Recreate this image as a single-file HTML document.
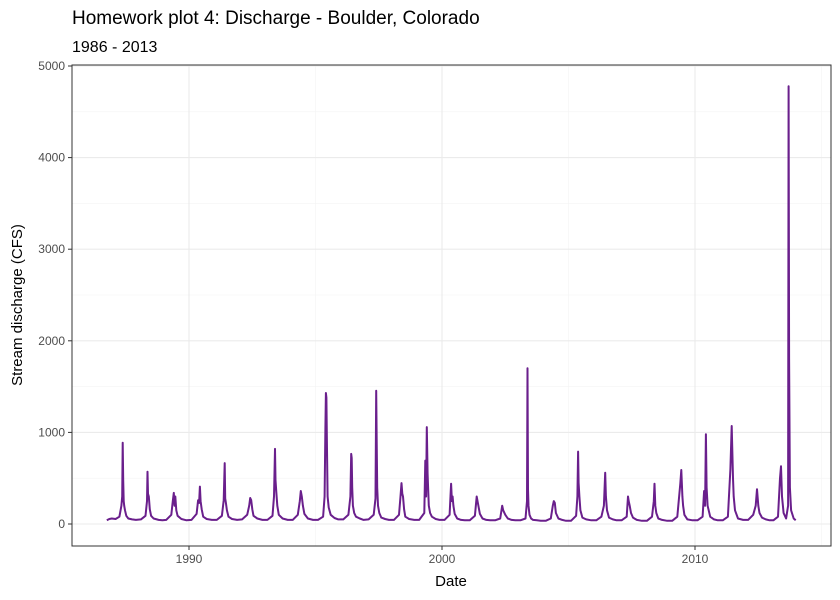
<!DOCTYPE html>
<html><head><meta charset="utf-8"><style>
body{margin:0;background:#fff;}
svg{display:block;font-family:"Liberation Sans",sans-serif;}
</style></head><body>
<svg id="chart" width="840" height="600" xmlns="http://www.w3.org/2000/svg">
<text x="72" y="24" font-size="19" fill="#000">Homework plot 4: Discharge - Boulder, Colorado</text>
<text x="72" y="52" font-size="16" fill="#000">1986 - 2013</text>
<g id="grid"></g>
<path id="line" fill="none" stroke="#6a1f8c" stroke-width="2" stroke-linejoin="round"/>
<rect x="72" y="65" width="759" height="481" fill="none" stroke="#333" stroke-width="1"/>
<g id="axes"></g>
<text x="451" y="586" font-size="15" text-anchor="middle">Date</text>
<text transform="translate(22,305) rotate(-90)" font-size="15" text-anchor="middle">Stream discharge (CFS)</text>
</svg>
<script>
const yTicks=[0,1000,2000,3000,4000,5000];
const xTicks=[1990,2000,2010];
const dates=[
1986.75,1986.85,1986.95,1987.1,1987.25,1987.33,1987.36,1987.38,1987.40,1987.42,1987.44,1987.47,1987.52,1987.6,1987.75,1987.9,
1988.1,1988.28,1988.34,1988.36,1988.38,1988.41,1988.45,1988.5,1988.6,1988.8,1988.95,
1989.1,1989.3,1989.36,1989.40,1989.43,1989.46,1989.5,1989.55,1989.7,1989.9,
1990.1,1990.3,1990.36,1990.40,1990.43,1990.46,1990.5,1990.56,1990.7,1990.9,
1991.1,1991.3,1991.37,1991.41,1991.43,1991.46,1991.5,1991.56,1991.7,1991.9,
1992.1,1992.3,1992.38,1992.42,1992.46,1992.5,1992.55,1992.7,1992.9,
1993.1,1993.3,1993.36,1993.40,1993.42,1993.45,1993.49,1993.55,1993.7,1993.9,
1994.1,1994.3,1994.38,1994.42,1994.46,1994.5,1994.56,1994.7,1994.9,
1995.1,1995.3,1995.36,1995.39,1995.41,1995.43,1995.45,1995.48,1995.52,1995.6,1995.75,1995.9,
1996.1,1996.3,1996.38,1996.41,1996.43,1996.45,1996.48,1996.53,1996.6,1996.75,1996.9,
1997.1,1997.3,1997.37,1997.40,1997.42,1997.44,1997.47,1997.52,1997.6,1997.75,1997.9,
1998.1,1998.3,1998.36,1998.40,1998.43,1998.46,1998.5,1998.55,1998.7,1998.9,
1999.1,1999.3,1999.34,1999.37,1999.40,1999.43,1999.45,1999.48,1999.53,1999.6,1999.75,1999.9,
2000.1,2000.3,2000.36,2000.39,2000.42,2000.45,2000.5,2000.6,2000.75,2000.9,
2001.1,2001.3,2001.37,2001.41,2001.45,2001.5,2001.6,2001.75,2001.9,
2002.1,2002.3,2002.38,2002.42,2002.5,2002.6,2002.75,2002.9,
2003.1,2003.3,2003.36,2003.38,2003.40,2003.42,2003.46,2003.52,2003.6,2003.75,2003.9,
2004.1,2004.3,2004.38,2004.42,2004.46,2004.5,2004.6,2004.75,2004.9,
2005.1,2005.3,2005.35,2005.38,2005.40,2005.43,2005.47,2005.55,2005.7,2005.9,
2006.1,2006.3,2006.40,2006.45,2006.48,2006.52,2006.6,2006.75,2006.9,
2007.1,2007.3,2007.35,2007.38,2007.42,2007.47,2007.55,2007.7,2007.9,
2008.1,2008.3,2008.37,2008.40,2008.43,2008.47,2008.55,2008.7,2008.9,
2009.1,2009.3,2009.42,2009.46,2009.50,2009.53,2009.58,2009.7,2009.9,
2010.1,2010.3,2010.36,2010.40,2010.43,2010.46,2010.5,2010.6,2010.75,2010.9,
2011.1,2011.3,2011.40,2011.45,2011.50,2011.53,2011.58,2011.7,2011.9,
2012.1,2012.3,2012.4,2012.45,2012.5,2012.55,2012.65,2012.8,2012.95,
2013.1,2013.28,2013.36,2013.40,2013.44,2013.50,2013.60,2013.68,2013.70,2013.72,2013.75,2013.80,2013.9,2013.98];
const flows=[
40,55,60,55,80,200,300,888,480,250,200,150,90,60,50,45,
50,90,250,571,330,300,160,90,60,45,40,
45,100,250,340,200,300,150,90,55,40,
45,110,260,230,408,250,160,80,55,45,
45,90,260,665,280,230,150,80,55,45,
50,100,200,284,260,160,90,60,45,
45,90,300,820,480,350,200,100,60,45,
45,100,250,360,300,200,110,60,45,
45,80,300,1050,1430,1380,900,300,180,100,65,50,
50,100,300,765,720,400,200,120,80,60,45,
50,100,280,1455,900,400,200,120,70,55,45,
45,100,300,447,330,300,160,80,55,45,
45,120,692,300,1058,550,400,200,120,80,55,45,
45,100,440,250,300,200,110,60,45,40,
40,90,300,240,180,110,60,45,40,
40,60,200,150,100,60,45,40,
40,60,250,1700,380,200,100,60,45,40,35,
35,60,200,250,230,120,60,45,35,
35,90,300,790,450,300,150,70,50,40,
40,80,200,560,300,150,70,50,40,
40,80,300,250,200,120,70,45,35,
35,80,250,440,200,120,60,45,35,
35,80,440,590,300,200,100,50,40,
40,80,360,200,980,400,200,80,50,40,
40,80,600,1070,500,300,150,60,45,
45,100,200,380,200,120,70,50,40,
40,80,500,630,300,120,60,200,4780,1800,400,150,60,40];

const X=t=>189+(t-1990)*25.3;
const Y=v=>524-v*0.0916;
const ns="http://www.w3.org/2000/svg";
const grid=document.getElementById('grid'), axes=document.getElementById('axes');
function ln(p,x1,y1,x2,y2,c,w){const l=document.createElementNS(ns,'line');l.setAttribute('x1',x1);l.setAttribute('y1',y1);l.setAttribute('x2',x2);l.setAttribute('y2',y2);l.setAttribute('stroke',c);l.setAttribute('stroke-width',w);p.appendChild(l);return l;}
function tx(p,x,y,s,a){const t=document.createElementNS(ns,'text');t.setAttribute('x',x);t.setAttribute('y',y);t.setAttribute('font-size','12');t.setAttribute('fill','#4d4d4d');t.setAttribute('text-anchor',a);t.textContent=s;p.appendChild(t);return t;}
for(let i=0;i<yTicks.length-1;i++){const m=(yTicks[i]+yTicks[i+1])/2;const g=ln(grid,72,Y(m),831,Y(m),'#f3f3f3',0.6);

}
[1985,1995,2005,2015].forEach(t=>{if(X(t)>72&&X(t)<831){const g=ln(grid,X(t),65,X(t),546,'#f3f3f3',0.6);

}});
yTicks.forEach(v=>{const g=ln(grid,72,Y(v),831,Y(v),'#ebebeb',1.1);


const k=ln(axes,68,Y(v),72,Y(v),'#333',1);


const t=tx(axes,65,Y(v)+4,String(v),'end');

});
xTicks.forEach(v=>{const g=ln(grid,X(v),65,X(v),546,'#ebebeb',1.1);


const k=ln(axes,X(v),546,X(v),550,'#333',1);


const t=tx(axes,X(v),563,String(v),'middle');

});
let d='';dates.forEach((t,i)=>{d+=(i?'L':'M')+X(t).toFixed(1)+','+Y(flows[i]).toFixed(1);});
document.getElementById('line').setAttribute('d',d);
</script>
</body></html>
